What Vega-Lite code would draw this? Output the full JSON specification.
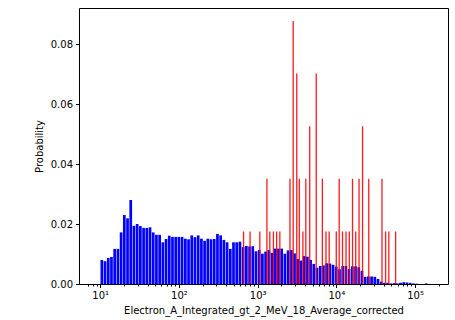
{
  "$schema": "https://vega.github.io/schema/vega-lite/v6.json",
  "width": 369,
  "height": 276,
  "autosize": {"type": "none"},
  "padding": {"left": 79, "top": 8, "right": 7, "bottom": 36},
  "background": "white",
  "config": {
    "view": {"stroke": "#000", "strokeWidth": 1},
    "axis": {
      "labelFont": "DejaVu Sans", "titleFont": "DejaVu Sans",
      "labelFontSize": 10, "titleFontSize": 10, "titleFontWeight": "normal",
      "labelColor": "#000", "titleColor": "#000", "tickColor": "#000",
      "domain": false, "grid": false
    }
  },
  "datasets": {
    "blue": [
      {"e": 10.48, "p": 0.0080}, {"e": 11.51, "p": 0.0076}, {"e": 12.65, "p": 0.0087}, {"e": 13.89, "p": 0.0090},
      {"e": 15.26, "p": 0.0117}, {"e": 16.77, "p": 0.0117}, {"e": 18.42, "p": 0.0172}, {"e": 20.23, "p": 0.0230},
      {"e": 22.23, "p": 0.0219}, {"e": 24.42, "p": 0.0280}, {"e": 26.82, "p": 0.0194}, {"e": 29.46, "p": 0.0200},
      {"e": 32.36, "p": 0.0193}, {"e": 35.55, "p": 0.0187}, {"e": 39.05, "p": 0.0187}, {"e": 42.90, "p": 0.0189},
      {"e": 47.12, "p": 0.0172}, {"e": 51.76, "p": 0.0164}, {"e": 56.86, "p": 0.0164}, {"e": 62.46, "p": 0.0139},
      {"e": 68.61, "p": 0.0150}, {"e": 75.37, "p": 0.0161}, {"e": 82.79, "p": 0.0157}, {"e": 90.95, "p": 0.0157},
      {"e": 99.91, "p": 0.0157}, {"e": 109.7, "p": 0.0157}, {"e": 120.6, "p": 0.0151}, {"e": 132.4, "p": 0.0149},
      {"e": 145.5, "p": 0.0162}, {"e": 159.8, "p": 0.0156}, {"e": 175.6, "p": 0.0162}, {"e": 192.9, "p": 0.0151},
      {"e": 211.8, "p": 0.0144}, {"e": 232.7, "p": 0.0151}, {"e": 255.6, "p": 0.0149}, {"e": 280.8, "p": 0.0150},
      {"e": 308.5, "p": 0.0167}, {"e": 338.8, "p": 0.0162}, {"e": 372.2, "p": 0.0147}, {"e": 408.9, "p": 0.0139},
      {"e": 449.2, "p": 0.0117}, {"e": 493.4, "p": 0.0139}, {"e": 542.0, "p": 0.0139}, {"e": 595.5, "p": 0.0141},
      {"e": 654.1, "p": 0.0123}, {"e": 718.5, "p": 0.0127}, {"e": 789.3, "p": 0.0125}, {"e": 867.0, "p": 0.0126},
      {"e": 952.4, "p": 0.0109}, {"e": 1046, "p": 0.0113}, {"e": 1149, "p": 0.0101}, {"e": 1262, "p": 0.0108},
      {"e": 1387, "p": 0.0113}, {"e": 1523, "p": 0.0104}, {"e": 1673, "p": 0.0118}, {"e": 1838, "p": 0.0118},
      {"e": 2019, "p": 0.0118}, {"e": 2218, "p": 0.0101}, {"e": 2437, "p": 0.0112}, {"e": 2677, "p": 0.0113},
      {"e": 2940, "p": 0.0102}, {"e": 3230, "p": 0.0083}, {"e": 3548, "p": 0.0078}, {"e": 3897, "p": 0.0093},
      {"e": 4281, "p": 0.0091}, {"e": 4703, "p": 0.0080}, {"e": 5166, "p": 0.0067}, {"e": 5675, "p": 0.0054},
      {"e": 6234, "p": 0.0060}, {"e": 6848, "p": 0.0062}, {"e": 7522, "p": 0.0069}, {"e": 8263, "p": 0.0068},
      {"e": 9078, "p": 0.0064}, {"e": 9972, "p": 0.0058}, {"e": 10955, "p": 0.0049}, {"e": 12034, "p": 0.0060},
      {"e": 13219, "p": 0.0060}, {"e": 14521, "p": 0.0050}, {"e": 15951, "p": 0.0059}, {"e": 17523, "p": 0.0059},
      {"e": 19249, "p": 0.0056}, {"e": 21144, "p": 0.0044}, {"e": 23227, "p": 0.0024}, {"e": 25515, "p": 0.0025},
      {"e": 28028, "p": 0.0025}, {"e": 30789, "p": 0.0024}, {"e": 33822, "p": 0.0017}, {"e": 37154, "p": 0.0008},
      {"e": 40813, "p": 0.0004}, {"e": 44833, "p": 0.0004}, {"e": 49250, "p": 0.0002}, {"e": 54101, "p": 0.0003},
      {"e": 59430, "p": 0.0002}, {"e": 65284, "p": 0.0004}, {"e": 71715, "p": 0.0006}, {"e": 78779, "p": 0.0005},
      {"e": 86539, "p": 0.0004}, {"e": 95060, "p": 0.0002}, {"e": 104400, "p": 0.0001}, {"e": 138400, "p": 0.0002}
    ],
    "red": [
      {"e": 662, "p": 0.0175}, {"e": 801, "p": 0.0175}, {"e": 1065, "p": 0.0175}, {"e": 1311, "p": 0.0351},
      {"e": 1427, "p": 0.0175}, {"e": 1586, "p": 0.0175}, {"e": 1742, "p": 0.0175}, {"e": 1913, "p": 0.0175},
      {"e": 2573, "p": 0.0351}, {"e": 2827, "p": 0.0877}, {"e": 3139, "p": 0.0702}, {"e": 3381, "p": 0.0351},
      {"e": 3756, "p": 0.0175}, {"e": 4091, "p": 0.0351}, {"e": 4585, "p": 0.0526}, {"e": 5549, "p": 0.0702},
      {"e": 6637, "p": 0.0351}, {"e": 7376, "p": 0.0175}, {"e": 8100, "p": 0.0175}, {"e": 9972, "p": 0.0175},
      {"e": 10859, "p": 0.0351}, {"e": 11963, "p": 0.0175}, {"e": 13258, "p": 0.0175}, {"e": 14601, "p": 0.0175},
      {"e": 16039, "p": 0.0351}, {"e": 17620, "p": 0.0175}, {"e": 19409, "p": 0.0351}, {"e": 21504, "p": 0.0526},
      {"e": 25800, "p": 0.0351}, {"e": 37990, "p": 0.0351}, {"e": 42220, "p": 0.0175}, {"e": 46390, "p": 0.0175},
      {"e": 56600, "p": 0.0175}
    ]
  },
  "layer": [
    {
      "data": {"name": "blue"},
      "mark": {"type": "bar", "color": "#0000ff", "size": 2.7, "orient": "vertical"},
      "encoding": {
        "x": {
          "field": "e", "type": "quantitative",
          "scale": {"type": "log", "domain": [6.22, 226300], "nice": false},
          "axis": {
            "orient": "bottom",
            "values": [10, 100, 1000, 10000, 100000],
            "labelExpr": "'10' + (datum.value == 10 ? '¹' : datum.value == 100 ? '²' : datum.value == 1000 ? '³' : datum.value == 10000 ? '⁴' : '⁵')",
            "tickSize": 3.5, "labelPadding": 3, "labelFlush": false,
            "title": "Electron_A_Integrated_gt_2_MeV_18_Average_corrected",
            "titlePadding": 5
          }
        },
        "y": {
          "field": "p", "type": "quantitative",
          "scale": {"domain": [0, 0.092], "nice": false, "zero": true},
          "axis": {
            "values": [0, 0.02, 0.04, 0.06, 0.08], "format": ".2f",
            "tickSize": 3.5, "labelPadding": 3, "labelFlush": false,
            "title": "Probability", "titlePadding": 6
          }
        },
        "y2": {"datum": 0}
      }
    },
    {
      "data": {"name": "red"},
      "mark": {"type": "rule", "color": "#ff0000", "strokeWidth": 1.3, "opacity": 0.9},
      "encoding": {
        "x": {
          "field": "e", "type": "quantitative",
          "axis": {
            "orient": "bottom",
            "values": [7, 8, 9, 20, 30, 40, 50, 60, 70, 80, 90, 200, 300, 400, 500, 600, 700, 800, 900, 2000, 3000, 4000, 5000, 6000, 7000, 8000, 9000, 20000, 30000, 40000, 50000, 60000, 70000, 80000, 90000, 200000],
            "labels": false, "tickSize": 2, "title": null
          }
        },
        "y": {"field": "p", "type": "quantitative"},
        "y2": {"datum": 0}
      }
    }
  ],
  "resolve": {"axis": {"x": "independent"}}
}
